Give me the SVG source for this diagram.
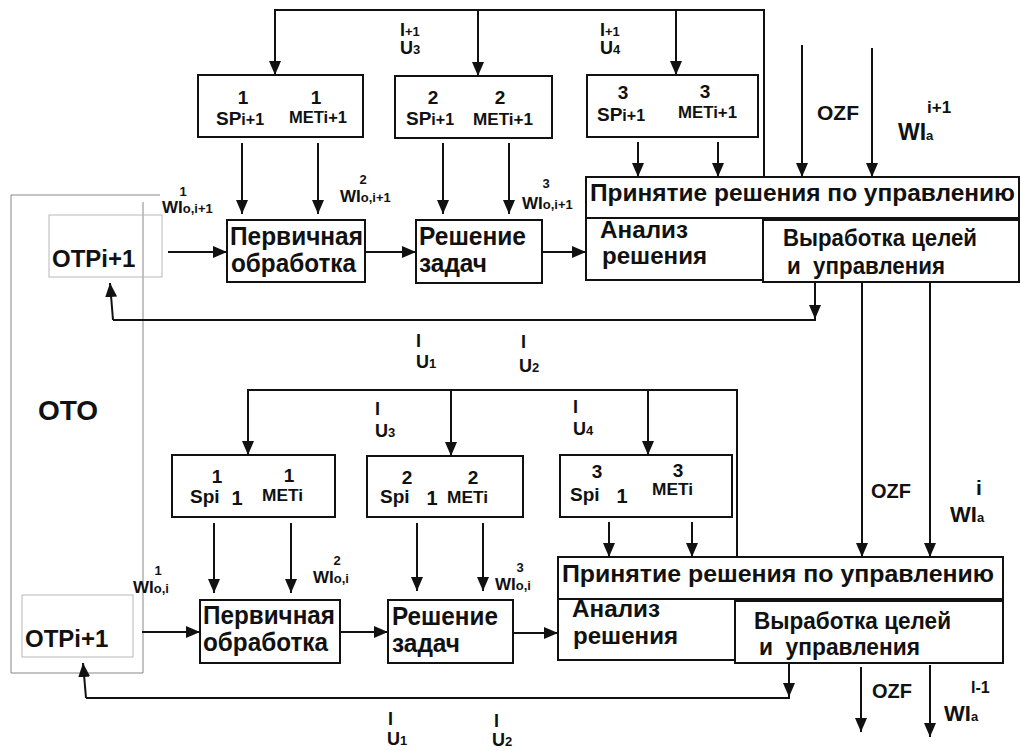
<svg xmlns="http://www.w3.org/2000/svg" width="1021" height="751" viewBox="0 0 1021 751">
<style>
text{font-family:"Liberation Sans",Arial,sans-serif;font-weight:bold;fill:#111}
.box{fill:none;stroke:#111;stroke-width:2}
.gbox{fill:none;stroke:#b8b8b8;stroke-width:1}
.frame{fill:none;stroke:#888;stroke-width:1}
.ln{fill:none;stroke:#111;stroke-width:2}
.ar{fill:none;stroke:#111;stroke-width:2;marker-end:url(#ah)}
.big{font-size:25px}
.mid{font-size:23px}
.num{font-size:19px}
.sp{font-size:19px}
.spi{font-size:16px}
.met{font-size:17px}
.lab{font-size:18px}
.sub{font-size:13px}
.wl{font-size:17px}
.ws{font-size:13px}
</style>
<defs>
<marker id="ah" markerWidth="14" markerHeight="14" viewBox="0 0 14 14" refX="14" refY="7" orient="auto" markerUnits="userSpaceOnUse"><path d="M0,1 L14,7 L0,13 z" fill="#111"/></marker>
</defs>
<rect width="1021" height="751" fill="#fff"/>

<g id="oto-frame">
<path class="frame" d="M11,673 V195 H160 M143,202 V673 H11"/>
<text x="38" y="420" style="font-size:28px">ОТО</text>
</g>

<g id="connectors">
<path class="ar" d="M764,177 V10 H275 V75"/>
<path class="ar" d="M478,10 V76"/>
<path class="ar" d="M676,10 V75"/>
<path class="ar" d="M242,143 V214"/>
<path class="ar" d="M318,143 V214"/>
<path class="ar" d="M443,143 V214"/>
<path class="ar" d="M509,143 V214"/>
<path class="ar" d="M638,142 V177"/>
<path class="ar" d="M718,142 V177"/>
<path class="ar" d="M802,45 V177"/>
<path class="ar" d="M872,48 V177"/>
<path class="ar" d="M168,252 H227"/>
<path class="ar" d="M365,252 H416"/>
<path class="ar" d="M542,252 H586"/>
<path class="ar" d="M815,282 V319"/>
<path class="ln" d="M816,320 H113"/>
<path class="ar" d="M113,320 L110,283"/>
<path class="ar" d="M862,282 V557"/>
<path class="ar" d="M930,282 V557"/>
<path class="ar" d="M737,557 V390 H248 V455"/>
<path class="ar" d="M451,390 V456"/>
<path class="ar" d="M648,390 V455"/>
<path class="ar" d="M214,523 V593"/>
<path class="ar" d="M291,523 V593"/>
<path class="ar" d="M417,523 V591"/>
<path class="ar" d="M483,523 V591"/>
<path class="ar" d="M609,522 V557"/>
<path class="ar" d="M692,522 V557"/>
<path class="ar" d="M142,632 H200"/>
<path class="ar" d="M340,632 H388"/>
<path class="ar" d="M513,633 H558"/>
<path class="ar" d="M789,663 V697"/>
<path class="ln" d="M790,698 H86"/>
<path class="ar" d="M86,698 L83,663"/>
<path class="ar" d="M861,667 V732"/>
<path class="ar" d="M930,665 V737"/>
</g>

<g id="labels">
<text x="400" y="36"><tspan class="lab">I</tspan><tspan class="sub">+1</tspan></text>
<text x="400" y="54"><tspan class="lab">U</tspan><tspan class="sub">3</tspan></text>
<text x="600" y="36"><tspan class="lab">I</tspan><tspan class="sub">+1</tspan></text>
<text x="600" y="54"><tspan class="lab">U</tspan><tspan class="sub">4</tspan></text>

<text x="183" y="196" class="ws" text-anchor="middle">1</text>
<text x="162" y="213"><tspan class="wl">WI</tspan><tspan class="ws">o,i+1</tspan></text>
<text x="363" y="184" class="ws" text-anchor="middle">2</text>
<text x="340" y="202"><tspan class="wl">WI</tspan><tspan class="ws">o,i+1</tspan></text>
<text x="546" y="188" class="ws" text-anchor="middle">3</text>
<text x="522" y="209"><tspan class="wl">WI</tspan><tspan class="ws">o,i+1</tspan></text>

<text x="817" y="120" style="font-size:21px">OZF</text>
<text x="927" y="113" style="font-size:17px">i+1</text>
<text x="898" y="140"><tspan style="font-size:23px">WI</tspan><tspan style="font-size:13px">a</tspan></text>

<text x="416" y="347" class="lab">I</text>
<text x="416" y="368"><tspan class="lab">U</tspan><tspan class="sub">1</tspan></text>
<text x="521" y="348" class="lab">I</text>
<text x="519" y="372"><tspan class="lab">U</tspan><tspan class="sub">2</tspan></text>

<text x="375" y="415" class="lab">I</text>
<text x="375" y="437"><tspan class="lab">U</tspan><tspan class="sub">3</tspan></text>
<text x="573" y="413" class="lab">I</text>
<text x="573" y="435"><tspan class="lab">U</tspan><tspan class="sub">4</tspan></text>

<text x="871" y="498" style="font-size:20px">OZF</text>
<text x="979" y="495" style="font-size:21px" text-anchor="middle">i</text>
<text x="950" y="522"><tspan style="font-size:22px">WI</tspan><tspan style="font-size:13px">a</tspan></text>

<text x="158" y="575" class="ws" text-anchor="middle">1</text>
<text x="133" y="593"><tspan class="wl">WI</tspan><tspan class="ws">o,i</tspan></text>
<text x="337" y="565" class="ws" text-anchor="middle">2</text>
<text x="313" y="583"><tspan class="wl">WI</tspan><tspan class="ws">o,i</tspan></text>
<text x="520" y="572" class="ws" text-anchor="middle">3</text>
<text x="495" y="590"><tspan class="wl">WI</tspan><tspan class="ws">o,i</tspan></text>

<text x="872" y="698" style="font-size:20px">OZF</text>
<text x="971" y="693" style="font-size:16px">I-1</text>
<text x="944" y="721"><tspan style="font-size:22px">WI</tspan><tspan style="font-size:13px">a</tspan></text>

<text x="388" y="725" class="lab">I</text>
<text x="387" y="745"><tspan class="lab">U</tspan><tspan class="sub">1</tspan></text>
<text x="494" y="727" class="lab">I</text>
<text x="492" y="746"><tspan class="lab">U</tspan><tspan class="sub">2</tspan></text>
</g>

<g id="otp-top">
<rect class="gbox" x="49" y="215" width="113" height="62"/>
<text x="52" y="267" style="font-size:24px">OTPi+1</text>
</g>
<g id="sp1-top">
<rect class="box" x="198" y="75" width="165" height="62"/>
<text x="243" y="104" class="num" text-anchor="middle">1</text>
<text x="216" y="125"><tspan class="sp">SP</tspan><tspan class="spi">i+1</tspan></text>
<text x="316" y="104" class="num" text-anchor="middle">1</text>
<text x="289" y="123" class="met" textLength="58" lengthAdjust="spacingAndGlyphs">METi+1</text>
</g>
<g id="sp2-top">
<rect class="box" x="395" y="76" width="157" height="62"/>
<text x="433" y="104" class="num" text-anchor="middle">2</text>
<text x="406" y="125"><tspan class="sp">SP</tspan><tspan class="spi">i+1</tspan></text>
<text x="500" y="104" class="num" text-anchor="middle">2</text>
<text x="473" y="125" class="met" textLength="60" lengthAdjust="spacingAndGlyphs">METi+1</text>
</g>
<g id="sp3-top">
<rect class="box" x="587" y="75" width="171" height="62"/>
<text x="623" y="99" class="num" text-anchor="middle">3</text>
<text x="597" y="121"><tspan class="sp">SP</tspan><tspan class="spi">i+1</tspan></text>
<text x="705" y="98" class="num" text-anchor="middle">3</text>
<text x="678" y="118" class="met" textLength="59" lengthAdjust="spacingAndGlyphs">METi+1</text>
</g>
<g id="perv-top">
<rect class="box" x="227" y="220" width="138" height="62"/>
<text x="230" y="245" class="big" textLength="133" lengthAdjust="spacingAndGlyphs">Первичная</text>
<text x="231" y="272" class="big" textLength="125" lengthAdjust="spacingAndGlyphs">обработка</text>
</g>
<g id="resh-top">
<rect class="box" x="416" y="220" width="126" height="63"/>
<text x="419" y="245" class="big" textLength="107" lengthAdjust="spacingAndGlyphs">Решение</text>
<text x="419" y="272" class="big" textLength="68" lengthAdjust="spacingAndGlyphs">задач</text>
</g>
<g id="prin-top">
<rect class="box" x="586" y="177" width="433" height="41"/>
<text x="590" y="201" class="mid" textLength="425" lengthAdjust="spacingAndGlyphs">Принятие решения по управлению</text>
</g>
<g id="anal-top">
<rect class="box" x="586" y="218" width="177" height="62"/>
<text x="600" y="238" class="mid" textLength="88" lengthAdjust="spacingAndGlyphs">Анализ</text>
<text x="602" y="264" class="mid" textLength="105" lengthAdjust="spacingAndGlyphs">решения</text>
</g>
<g id="vyr-top">
<rect class="box" x="763" y="220" width="256" height="62"/>
<text x="783" y="246" class="mid" textLength="194" lengthAdjust="spacingAndGlyphs">Выработка целей</text>
<text x="787" y="274" class="mid" textLength="158" lengthAdjust="spacingAndGlyphs">и&#160; управления</text>
</g>

<g id="otp-bottom">
<rect class="gbox" x="22" y="595" width="111" height="62"/>
<text x="25" y="647" style="font-size:24px">OTPi+1</text>
</g>
<g id="sp1-bottom">
<rect class="box" x="172" y="455" width="163" height="62"/>
<text x="217" y="483" class="num" text-anchor="middle">1</text>
<text x="190" y="503" class="sp">Spi</text>
<text x="237" y="505" style="font-size:20px" text-anchor="middle">1</text>
<text x="289" y="482" class="num" text-anchor="middle">1</text>
<text x="262" y="501" class="met" textLength="41" lengthAdjust="spacingAndGlyphs">METi</text>
</g>
<g id="sp2-bottom">
<rect class="box" x="367" y="456" width="156" height="61"/>
<text x="407" y="484" class="num" text-anchor="middle">2</text>
<text x="380" y="503" class="sp">Spi</text>
<text x="432" y="505" style="font-size:20px" text-anchor="middle">1</text>
<text x="473" y="484" class="num" text-anchor="middle">2</text>
<text x="447" y="503" class="met" textLength="41" lengthAdjust="spacingAndGlyphs">METi</text>
</g>
<g id="sp3-bottom">
<rect class="box" x="560" y="455" width="172" height="62"/>
<text x="597" y="478" class="num" text-anchor="middle">3</text>
<text x="570" y="501" class="sp">Spi</text>
<text x="622" y="503" style="font-size:20px" text-anchor="middle">1</text>
<text x="678" y="477" class="num" text-anchor="middle">3</text>
<text x="652" y="495" class="met" textLength="41" lengthAdjust="spacingAndGlyphs">METi</text>
</g>
<g id="perv-bottom">
<rect class="box" x="200" y="600" width="140" height="63"/>
<text x="203" y="624" class="big" textLength="132" lengthAdjust="spacingAndGlyphs">Первичная</text>
<text x="203" y="651" class="big" textLength="125" lengthAdjust="spacingAndGlyphs">обработка</text>
</g>
<g id="resh-bottom">
<rect class="box" x="388" y="600" width="125" height="63"/>
<text x="392" y="625" class="big" textLength="106" lengthAdjust="spacingAndGlyphs">Решение</text>
<text x="392" y="652" class="big" textLength="68" lengthAdjust="spacingAndGlyphs">задач</text>
</g>
<g id="prin-bottom">
<rect class="box" x="558" y="557" width="445" height="42"/>
<text x="562" y="582" class="mid" textLength="432" lengthAdjust="spacingAndGlyphs">Принятие решения по управлению</text>
</g>
<g id="anal-bottom">
<rect class="box" x="558" y="599" width="177" height="61"/>
<text x="572" y="617" class="mid" textLength="88" lengthAdjust="spacingAndGlyphs">Анализ</text>
<text x="573" y="644" class="mid" textLength="105" lengthAdjust="spacingAndGlyphs">решения</text>
</g>
<g id="vyr-bottom">
<rect class="box" x="735" y="601" width="268" height="62"/>
<text x="754" y="629" class="mid" textLength="197" lengthAdjust="spacingAndGlyphs">Выработка целей</text>
<text x="759" y="655" class="mid" textLength="161" lengthAdjust="spacingAndGlyphs">и&#160; управления</text>
</g>
</svg>
